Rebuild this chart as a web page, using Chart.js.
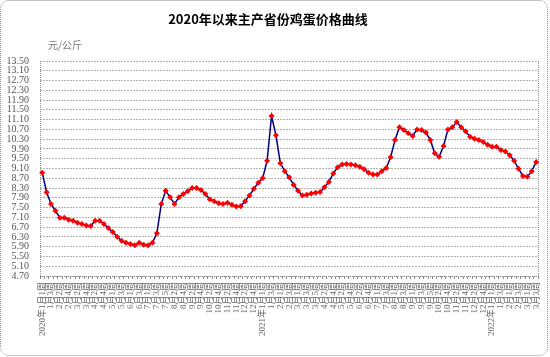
<!DOCTYPE html>
<html><head><meta charset="utf-8">
<script src="https://cdn.jsdelivr.net/npm/chart.js@4/dist/chart.umd.min.js"></script>
<style>html,body{margin:0;padding:0;background:#fff}#wrap{width:550px;height:357px}</style>
</head><body><div id="wrap"><canvas id="c" width="550" height="357"></canvas></div>
<script>
const chartTitle = "2020年以来主产省份鸡蛋价格曲线";
const unitLabel = "元/公斤";
const weekLabels = [
"2020年1月1周","1月2周","1月3周",
"2月1周","2月2周","2月3周","2月4周",
"3月1周","3月2周","3月3周","3月4周",
"4月1周","4月2周","4月3周","4月4周","4月5周",
"5月1周","5月2周","5月3周","5月4周",
"6月1周","6月2周","6月3周","6月4周",
"7月1周","7月2周","7月3周","7月4周","7月5周",
"8月1周","8月2周","8月3周","8月4周",
"9月1周","9月2周","9月3周","9月4周",
"10月1周","10月2周","10月3周","10月4周",
"11月1周","11月2周","11月3周","11月4周",
"12月1周","12月2周","12月3周","12月4周","12月5周",
"2021年1月1周","1月2周","1月3周","1月4周",
"2月1周","2月2周","2月3周","2月4周",
"3月1周","3月2周","3月3周","3月4周","3月5周",
"4月1周","4月2周","4月3周","4月4周",
"5月1周","5月2周","5月3周","5月4周",
"6月1周","6月2周","6月3周","6月4周","6月5周",
"7月1周","7月2周","7月3周","7月4周",
"8月1周","8月2周","8月3周","8月4周",
"9月1周","9月2周","9月3周","9月4周","9月5周",
"10月1周","10月2周","10月3周","10月4周",
"11月1周","11月2周","11月3周","11月4周",
"12月1周","12月2周","12月3周","12月4周","12月5周",
"2022年1月1周","1月2周","1月3周","1月4周",
"2月1周","2月2周","2月3周","2月4周",
"3月1周","3月2周","3月3周"
];
const eggPrice = [
8.93,8.13,7.65,7.37,7.08,7.08,7.00,6.96,6.88,6.83,6.77,6.75,6.96,6.96,6.83,6.66,6.50,6.31,6.14,6.06,
6.01,5.96,6.06,5.98,5.96,6.06,6.45,7.65,8.19,7.92,7.65,7.92,8.06,8.17,8.30,8.30,8.22,8.06,7.84,7.76,
7.68,7.65,7.70,7.62,7.54,7.56,7.76,8.00,8.27,8.52,8.71,9.42,11.25,10.46,9.31,8.99,8.74,8.44,8.19,8.00,
8.03,8.08,8.11,8.14,8.33,8.55,8.90,9.15,9.26,9.28,9.26,9.23,9.17,9.07,8.93,8.85,8.85,8.99,9.12,9.56,
10.27,10.79,10.68,10.54,10.43,10.70,10.68,10.57,10.27,9.72,9.58,10.02,10.70,10.79,11.00,10.79,10.62,10.40,10.32,10.27,
10.18,10.07,9.99,9.99,9.86,9.80,9.64,9.42,9.09,8.79,8.76,8.99,9.37
];
const yMin = 4.7, yMax = 13.5, yStep = 0.4;

const decor = {
  id: 'decor',
  beforeDatasetsDraw(chart) {
    const {ctx, chartArea: a} = chart;
    ctx.save();
    ctx.strokeStyle = '#8c8c8c';
    ctx.lineWidth = 1;
    ctx.setLineDash([1, 1]);
    ctx.beginPath();
    ctx.moveTo(Math.round(a.left) + 0.5, a.top);
    ctx.lineTo(Math.round(a.left) + 0.5, a.bottom);
    ctx.moveTo(Math.round(a.right) + 0.5, a.top);
    ctx.lineTo(Math.round(a.right) + 0.5, a.bottom);
    ctx.moveTo(a.left, Math.round(a.bottom) + 0.5);
    ctx.lineTo(a.right, Math.round(a.bottom) + 0.5);
    ctx.stroke();
    ctx.restore();
  },
  afterDraw(chart) {
    const {ctx} = chart;
    ctx.save();
    ctx.fillStyle = '#000';
    ctx.font = 'bold 13px "Noto Sans CJK SC"';
    ctx.textAlign = 'center';
    ctx.textBaseline = 'middle';
    ctx.fillText(chartTitle, 268, 19);
    ctx.fillStyle = '#777';
    ctx.font = '10px "Noto Sans CJK SC"';
    ctx.textAlign = 'left';
    ctx.fillText(unitLabel, 48, 45);
    ctx.strokeStyle = '#8c8c8c';
    ctx.setLineDash([1, 1]);
    ctx.beginPath();
    ctx.roundRect(0.5, 0.5, 547, 355, 8);
    ctx.stroke();
    ctx.restore();
  }
};

new Chart(document.getElementById('c'), {
  type: 'line',
  data: {
    labels: weekLabels,
    datasets: [{
      data: eggPrice,
      borderColor: '#000080',
      borderWidth: 1.5,
      pointStyle: 'rectRot',
      pointRadius: 3,
      pointBackgroundColor: '#ff0000',
      pointBorderColor: '#ff0000',
      pointBorderWidth: 0,
      tension: 0
    }]
  },
  plugins: [decor],
  options: {
    responsive: false,
    animation: false,
    devicePixelRatio: 1,
    layout: {padding: {top: 61, right: 9, left: 0, bottom: 0}},
    plugins: {legend: {display: false}, tooltip: {enabled: false}, title: {display: false}},
    scales: {
      x: {
        type: 'category',
        offset: true,
        afterFit(s) { s.height = 81; },
        grid: {offset: true, drawOnChartArea: false, tickLength: 3, color: '#8c8c8c'},
        border: {display: false},
        ticks: {
          autoSkip: false, minRotation: 90, maxRotation: 90, padding: 3,
          color: '#666',
          font: {size: 9, family: '"Liberation Serif", "Noto Sans CJK SC"'},
          callback(v, i) { return i % 2 === 0 ? this.getLabelForValue(v) : ''; }
        }
      },
      y: {
        min: yMin, max: yMax,
        afterFit(s) { s.width = 40; },
        grid: {color: '#b4b4b4', drawTicks: false},
        border: {display: false, dash: [2, 1]},
        ticks: {
          autoSkip: false,
          stepSize: yStep, padding: 11, color: '#555',
          font: {size: 10, family: '"Liberation Serif"'},
          callback(v) { return Number(v).toFixed(2); }
        }
      }
    }
  }
});
</script></body></html>
